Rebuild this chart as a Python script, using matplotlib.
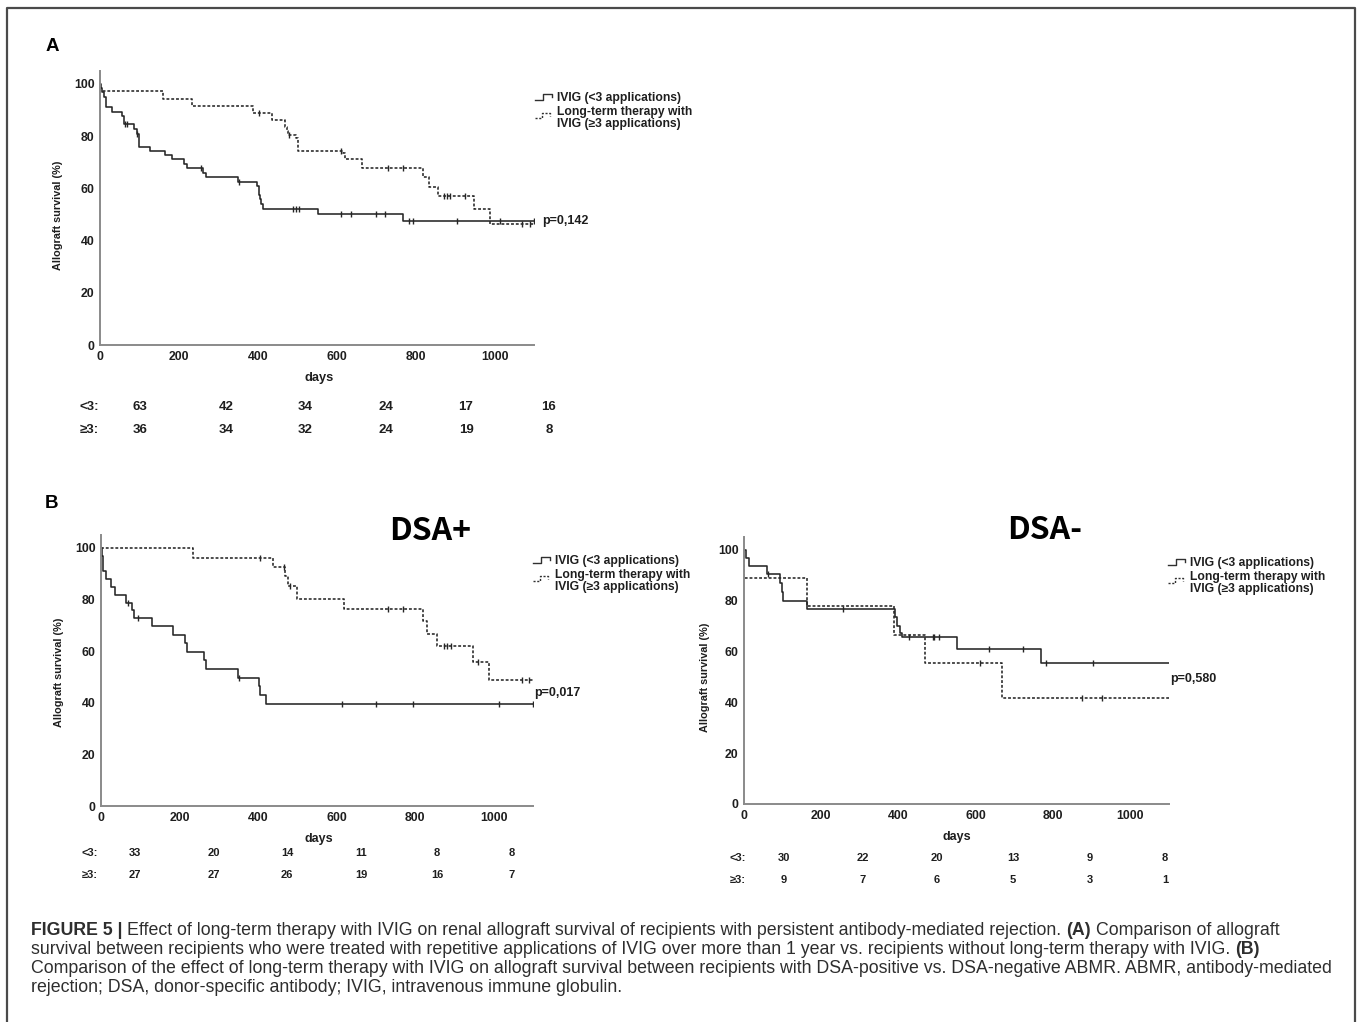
import numpy as np
import matplotlib
matplotlib.use('Agg')
import matplotlib.pyplot as plt
from matplotlib.lines import Line2D

W, H = 1357, 1022

# ---- data (days, survival %) ----
# Panel A
a_lt3_t = [0, 3, 6, 9, 14, 30, 55, 60, 87, 93, 99, 127, 165, 182, 213, 220, 262, 268,
           350, 398, 402, 405, 408, 414, 553, 768]
a_lt3_s = [100, 98.4, 96.8, 95.2, 91.1, 89.4, 87.7, 84.5, 82.7, 81.0, 76.0, 74.5, 72.9,
           71.2, 69.5, 67.7, 66.0, 64.2, 62.5, 60.8, 57.5, 55.8, 54.0, 52.2, 50.0, 47.6]
a_lt3_cens = [63, 69, 95, 256, 352, 490, 496, 505, 612, 635, 699, 723, 783, 794, 906, 1013, 1099]

a_ge3_t = [0, 0.5, 160, 232, 388, 435, 469, 473, 477, 498, 502, 616, 620, 665, 819, 834,
           857, 947, 988]
a_ge3_s = [100, 97.2, 94.4, 91.7, 88.9, 86.2, 83.7, 82.0, 80.5, 79.2, 74.5, 73.4, 71.3,
           67.9, 64.5, 60.7, 57.2, 52.2, 46.4]
a_ge3_cens = [404, 480, 612, 730, 767, 871, 880, 888, 926, 1070, 1091]

# Panel B, DSA+
bp_lt3_t = [0, 2, 4, 6, 14, 25, 36, 64, 78, 85, 129, 183, 214, 218, 261, 267, 350, 403,
            405, 421]
bp_lt3_s = [100, 97.0, 93.9, 90.9, 87.9, 84.8, 81.8, 78.8, 75.8, 72.7, 69.7, 66.4, 63.0,
            59.8, 56.5, 53.1, 49.8, 46.4, 43.0, 39.6]
bp_lt3_cens = [70, 94, 352, 613, 700, 794, 1013, 1099]

bp_ge3_t = [0, 235, 437, 469, 477, 499, 619, 820, 830, 856, 947, 987]
bp_ge3_s = [100, 96.3, 92.6, 89.0, 85.2, 80.4, 76.4, 71.7, 66.8, 62.1, 55.9, 48.8]
bp_ge3_cens = [405, 467, 480, 732, 769, 873, 881, 891, 959, 1071, 1089]

# Panel B, DSA-
bn_lt3_t = [0, 6, 13, 60, 94, 98, 101, 163, 390, 395, 403, 408, 552, 768]
bn_lt3_s = [100, 96.7, 93.7, 90.4, 87.2, 83.6, 80.1, 76.7, 73.5, 69.9, 67.2, 65.7, 61.0, 55.4]
bn_lt3_cens = [61, 255, 427, 488, 492, 505, 635, 723, 781, 904]

bn_ge3_t = [0, 1, 163, 388, 468, 668]
bn_ge3_s = [100, 88.9, 77.8, 66.7, 55.6, 41.7]
bn_ge3_cens = [612, 874, 927]

# numbers at risk
a_risk_lt3 = [63, 42, 34, 24, 17, 16]
a_risk_ge3 = [36, 34, 32, 24, 19, 8]
bp_risk_lt3 = [33, 20, 14, 11, 8, 8]
bp_risk_ge3 = [27, 27, 26, 19, 16, 7]
bn_risk_lt3 = [30, 22, 20, 13, 9, 8]
bn_risk_ge3 = [9, 7, 6, 5, 3, 1]

p_values = ['p=0,142', 'p=0,017', 'p=0,580']
legend_labels = ['IVIG (<3 applications)', 'Long-term therapy with\nIVIG (\u22653 applications)']
x_ticks = [0, 200, 400, 600, 800, 1000]
y_ticks = [0, 20, 40, 60, 80, 100]

plt.rcParams['font.family'] = ['Liberation Sans', 'DejaVu Sans']
fig = plt.figure(figsize=(W / 100, H / 100), dpi=100)
INK = '#1e1e1e'


def fx(x):
    return x / W


def fy(y):
    return 1 - y / H


def add_axes(left, right, top, bottom):
    return fig.add_axes([fx(left), fy(bottom), fx(right - left), (bottom - top) / H])


def km(ax, t, s, cens, ls):
    tt = list(t) + [1100]
    ss = list(s) + [s[-1]]
    ax.step(tt, ss, where='post', color='#262626', lw=1.15, ls=ls)
    idx = np.searchsorted(t, cens, side='right') - 1
    ax.plot(cens, np.array(s)[idx], ls='none', marker='|', ms=5, mew=1.0, color='#262626')


def style(ax):
    ax.set_xlim(0, 1100)
    ax.set_ylim(0, 105)
    ax.set_xticks(x_ticks)
    ax.set_yticks(y_ticks)
    for sp in ['top', 'right']:
        ax.spines[sp].set_visible(False)
    for sp in ['left', 'bottom']:
        ax.spines[sp].set_color('#8a8a8a')
        ax.spines[sp].set_linewidth(1.4)
    ax.tick_params(length=0, labelsize=8.8, colors=INK)
    ax.tick_params(axis='y', pad=4)
    ax.tick_params(axis='x', pad=4)
    for lab in ax.get_xticklabels() + ax.get_yticklabels():
        lab.set_fontweight('bold')
    ax.patch.set_alpha(0)


def legend(x0, y0, dy1):
    # little step icons drawn like the SPSS legend
    fig.add_artist(Line2D([fx(x0), fx(x0 + 8), fx(x0 + 8), fx(x0 + 17), fx(x0 + 17)],
                          [fy(y0 + 2), fy(y0 + 2), fy(y0 - 4), fy(y0 - 4), fy(y0 - 1)],
                          color='#303030', lw=1.0))
    fig.add_artist(Line2D([fx(x0), fx(x0 + 7), fx(x0 + 7), fx(x0 + 15), fx(x0 + 15)],
                          [fy(y0 + dy1 + 6), fy(y0 + dy1 + 6), fy(y0 + dy1 + 1),
                           fy(y0 + dy1 + 1), fy(y0 + dy1 + 4)],
                          color='#303030', lw=1.0, ls=(0, (1.5, 1.2))))
    fig.text(fx(x0 + 22), fy(y0), legend_labels[0], fontsize=8.7, fontweight='bold',
             va='center', ha='left', color=INK)
    fig.text(fx(x0 + 22), fy(y0 + dy1 + 6), legend_labels[1], fontsize=8.7, fontweight='bold',
             va='center', ha='left', color=INK, linespacing=0.9)


def risk(xs, y1, y2, lx, v1, v2, size):
    kw = dict(fontsize=size, fontweight='bold', ha='center', va='center', color=INK)
    fig.text(fx(lx), fy(y1), '<3:', **kw)
    fig.text(fx(lx), fy(y2), '\u22653:', **kw)
    for x, a, b in zip(xs, v1, v2):
        fig.text(fx(x), fy(y1), str(a), **kw)
        fig.text(fx(x), fy(y2), str(b), **kw)


def ylabel(x, y):
    fig.text(fx(x), fy(y), 'Allograft survival (%)', rotation=90, fontsize=7.8,
             fontweight='bold', ha='center', va='center', color=INK,
             family=['Liberation Sans Narrow', 'Liberation Sans'])


def days(x, y, size):
    fig.text(fx(x), fy(y), 'days', fontsize=size, fontweight='bold', ha='center',
             va='center', color=INK)


# ---- panel A ----
axA = add_axes(100, 534, 345 - 105 * 2.61, 345)
km(axA, a_lt3_t, a_lt3_s, a_lt3_cens, '-')
km(axA, a_ge3_t, a_ge3_s, a_ge3_cens, (0, (1.8, 1.2)))
style(axA)
fig.text(fx(52), fy(46), 'A', fontsize=13.5, fontweight='bold', ha='center', va='center')
legend(535, 98, 14)
fig.text(fx(542), fy(221), p_values[0], fontsize=9, fontweight='bold', va='center', color=INK)
days(319, 378, 9.3)
ylabel(58, 215)
risk([140, 226, 305, 386, 466, 549], 407, 430, 89, a_risk_lt3, a_risk_ge3, 9.5)

# ---- panel B, DSA+ ----
axP = add_axes(101, 533, 806 - 105 * 2.58, 806)
km(axP, bp_lt3_t, bp_lt3_s, bp_lt3_cens, '-')
km(axP, bp_ge3_t, bp_ge3_s, bp_ge3_cens, (0, (1.8, 1.2)))
style(axP)
fig.text(fx(52), fy(503), 'B', fontsize=13.5, fontweight='bold', ha='center', va='center')
fig.text(fx(430), fy(531), 'DSA+', fontsize=23, fontweight='bold', ha='center', va='center',
         family=['Noto Sans CJK KR', 'DejaVu Sans'])
legend(533, 561, 14)
fig.text(fx(534), fy(693), p_values[1], fontsize=9, fontweight='bold', va='center', color=INK)
days(319, 839, 9)
ylabel(59, 672)
risk([135, 214, 287, 361, 437, 512], 853, 875, 90, bp_risk_lt3, bp_risk_ge3, 8)

# ---- panel B, DSA- ----
axN = add_axes(744, 1169, 804 - 105 * 2.54, 804)
km(axN, bn_lt3_t, bn_lt3_s, bn_lt3_cens, '-')
km(axN, bn_ge3_t, bn_ge3_s, bn_ge3_cens, (0, (1.8, 1.2)))
style(axN)
fig.text(fx(1045), fy(530), 'DSA-', fontsize=23, fontweight='bold', ha='center', va='center',
         family=['Noto Sans CJK KR', 'DejaVu Sans'])
legend(1168, 563, 14)
fig.text(fx(1170), fy(679), p_values[2], fontsize=9, fontweight='bold', va='center', color=INK)
days(957, 837, 9)
ylabel(705, 677)
risk([784, 863, 937, 1013, 1090, 1165], 858, 880, 738, bn_risk_lt3, bn_risk_ge3, 8)

# ---- frame around the figure ----
fig.add_artist(Line2D([fx(7), fx(7), fx(1355), fx(1355)], [0, fy(8), fy(8), 0],
                      color='#4a4a4a', lw=1.6))

# ---- caption with bold pieces ----
caption = [
    [('FIGURE 5 |', True),
     ('Effect of long-term therapy with IVIG on renal allograft survival of recipients with persistent antibody-mediated rejection.', False),
     ('(A)', True), ('Comparison of allograft', False)],
    [('survival between recipients who were treated with repetitive applications of IVIG over more than 1 year vs. recipients without long-term therapy with IVIG.', False),
     ('(B)', True)],
    [('Comparison of the effect of long-term therapy with IVIG on allograft survival between recipients with DSA-positive vs. DSA-negative ABMR. ABMR, antibody-mediated', False)],
    [('rejection; DSA, donor-specific antibody; IVIG, intravenous immune globulin.', False)],
]
renderer = fig.canvas.get_renderer()
cap_size = 12.75
t1 = fig.text(0, 0, 'x x', fontsize=cap_size)
t2 = fig.text(0, 0, 'xx', fontsize=cap_size)
space_w = t1.get_window_extent(renderer).width - t2.get_window_extent(renderer).width
t1.remove()
t2.remove()
for i, line in enumerate(caption):
    x = 31
    y = 930 + i * 19.3
    for txt, bold in line:
        t = fig.text(fx(x), fy(y), txt, fontsize=cap_size, va='center', ha='left',
                     fontweight='bold' if bold else 'normal', color='#2e2e2e')
        x += t.get_window_extent(renderer).width + space_w

fig.savefig('out.png', dpi=100)
